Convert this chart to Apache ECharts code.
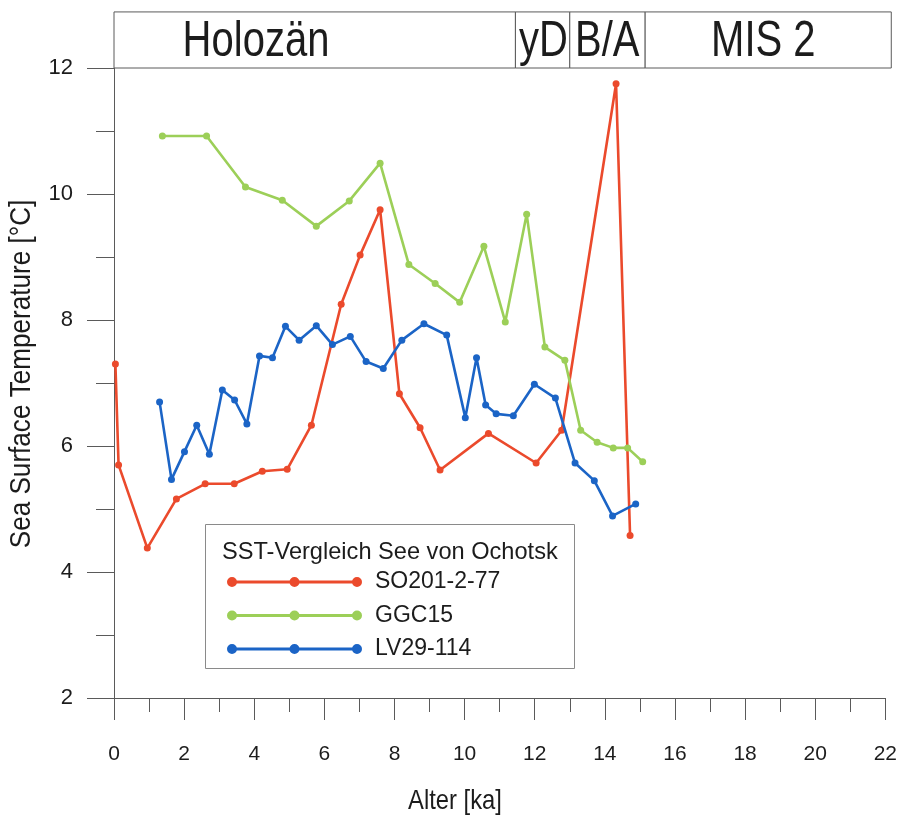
<!DOCTYPE html>
<html>
<head>
<meta charset="utf-8">
<script src="https://cdn.jsdelivr.net/npm/echarts@6/dist/echarts.min.js"></script>
<style>
  html, body { margin: 0; padding: 0; background: #ffffff; }
  #chart { width: 900px; height: 816px; }
</style>
</head>
<body>
<div id="chart"></div>
<script>
// SST core records, Sea of Okhotsk: age in ka, temperature in °C
const ageSO201 = [0.04, 0.13, 0.95, 1.78, 2.60, 3.43, 4.23, 4.94, 5.63, 6.48, 7.02, 7.59,
                  8.14, 8.73, 9.30, 10.68, 12.04, 12.77, 14.32, 14.72];
const sstSO201 = [7.30, 5.70, 4.38, 5.16, 5.40, 5.40, 5.60, 5.63, 6.33, 8.25, 9.03, 9.75,
                  6.83, 6.29, 5.62, 6.20, 5.73, 6.25, 11.75, 4.58];

const ageGGC15 = [1.38, 2.64, 3.75, 4.80, 5.77, 6.71, 7.59, 8.41, 9.16, 9.86, 10.55, 11.16,
                  11.77, 12.29, 12.86, 13.31, 13.78, 14.24, 14.65, 15.08];
const sstGGC15 = [10.92, 10.92, 10.11, 9.90, 9.49, 9.89, 10.49, 8.88, 8.58, 8.28, 9.17, 7.97,
                  9.68, 7.57, 7.36, 6.25, 6.06, 5.97, 5.97, 5.75];

const ageLV29 = [1.30, 1.64, 2.01, 2.36, 2.72, 3.09, 3.44, 3.79, 4.15, 4.52, 4.89, 5.28,
                 5.77, 6.23, 6.74, 7.19, 7.68, 8.21, 8.84, 9.49, 10.02, 10.34, 10.60, 10.90,
                 11.39, 11.99, 12.59, 13.15, 13.70, 14.22, 14.88];
const sstLV29 = [6.70, 5.47, 5.91, 6.33, 5.87, 6.89, 6.73, 6.35, 7.43, 7.40, 7.90, 7.68,
                 7.91, 7.61, 7.74, 7.34, 7.23, 7.68, 7.94, 7.76, 6.45, 7.40, 6.65, 6.51,
                 6.48, 6.98, 6.76, 5.73, 5.45, 4.89, 5.08];

const seriesNames = ['SO201-2-77', 'GGC15', 'LV29-114'];
const seriesColors = ['#EB4A2C', '#9CCF58', '#1B64C6'];

// Climate stages shown in the band above the plot (ka)
const stageNames = ['Holozän', 'yD', 'B/A', 'MIS 2'];
const stageStart = [0, 11.45, 13.0, 15.15];
const stageEnd = [11.45, 13.0, 15.15, 22.17];
const stageLabelAt = [4.05, 12.25, 14.07, 18.52];
const bandBottom = 12;
const bandTop = 12.89;

// Axis ranges and tick spacing
const xMin = 0, xMax = 22, xStep = 2;
const yMin = 2, yMax = 12, yStep = 2;

const xTitle = 'Alter [ka]';
const yTitle = 'Sea Surface Temperature [°C]';
const legendTitle = 'SST-Vergleich See von Ochotsk';

const zip = (a, b) => a.map((v, i) => [v, b[i]]);
const seriesData = [zip(ageSO201, sstSO201), zip(ageGGC15, sstGGC15), zip(ageLV29, sstLV29)];

const sans = '"Liberation Sans", Arial, Helvetica, sans-serif';
const condense = 0.8;   // horizontal squeeze for the condensed headings
const axisGrey = '#5a5a5a';
const ink = '#1c1c1c';

// Legend symbol: line with three dots
const legendIcon = 'path://M0,5a5,5 0 1,1 10,0a5,5 0 1,1 -10,0Z' +
  'M62.5,5a5,5 0 1,1 10,0a5,5 0 1,1 -10,0Z' +
  'M125,5a5,5 0 1,1 10,0a5,5 0 1,1 -10,0Z' +
  'M5,3.5L130,3.5L130,6.5L5,6.5Z';

const chart = echarts.init(document.getElementById('chart'), null, { renderer: 'canvas' });

const lineSeries = seriesNames.map((name, i) => ({
  name: name,
  type: 'line',
  data: seriesData[i],
  symbol: 'circle',
  symbolSize: 7,
  showSymbol: true,
  clip: false,
  lineStyle: { color: seriesColors[i], width: 2.6 },
  itemStyle: { color: seriesColors[i] },
  emphasis: { disabled: true },
  z: 3 + i
}));

const stageSeries = {
  type: 'custom',
  name: 'stages',
  clip: false,
  silent: true,
  data: stageNames.map((n, i) => [stageStart[i], stageEnd[i], stageLabelAt[i], bandBottom]),
  encode: { x: [0, 1, 2], y: 3 },
  renderItem: function (params, api) {
    const p0 = api.coord([api.value(0), bandTop]);
    const p1 = api.coord([api.value(1), bandBottom]);
    const pc = api.coord([api.value(2), bandBottom]);
    return {
      type: 'group',
      children: [
        {
          type: 'rect',
          shape: { x: p0[0], y: p0[1], width: p1[0] - p0[0], height: p1[1] - p0[1] },
          style: { fill: '#ffffff', stroke: axisGrey, lineWidth: 1 }
        },
        {
          type: 'text',
          x: pc[0], y: (p0[1] + p1[1]) / 2 + 2,
          scaleX: condense, scaleY: 1,
          style: {
            x: 0, y: 0,
            text: stageNames[params.dataIndex],
            fontFamily: sans, fontSize: 50,
            fill: ink, align: 'center', verticalAlign: 'middle'
          }
        }
      ]
    };
  },
  z: 2
};

chart.setOption({
  animation: false,
  backgroundColor: '#ffffff',
  grid: { left: 114, right: 14, top: 68, bottom: 118, containLabel: false },
  xAxis: {
    type: 'value',
    min: xMin, max: xMax, interval: xStep,
    axisLine: { show: true, onZero: false, lineStyle: { color: axisGrey, width: 1 } },
    axisTick: { show: true, inside: false, length: 22, lineStyle: { color: axisGrey, width: 1 } },
    minorTick: { show: true, splitNumber: 2, length: 14, lineStyle: { color: axisGrey, width: 1 } },
    axisLabel: { fontFamily: sans, fontSize: 21, color: ink, margin: 46 },
    splitLine: { show: false }
  },
  yAxis: {
    type: 'value',
    min: yMin, max: yMax, interval: yStep,
    axisLine: { show: true, onZero: false, lineStyle: { color: axisGrey, width: 1 } },
    axisTick: { show: true, inside: false, length: 27, lineStyle: { color: axisGrey, width: 1 } },
    minorTick: { show: true, splitNumber: 2, length: 18, lineStyle: { color: axisGrey, width: 1 } },
    axisLabel: { fontFamily: sans, fontSize: 22, color: ink, margin: 41 },
    splitLine: { show: false }
  },
  legend: {
    data: seriesNames,
    orient: 'vertical',
    left: 222,
    top: 564,
    icon: legendIcon,
    itemWidth: 135,
    itemHeight: 10,
    itemGap: 7.5,
    itemStyle: { borderWidth: 0 },
    selectedMode: false,
    textStyle: { fontFamily: sans, fontSize: 23, color: ink, lineHeight: 26, padding: [0, 0, 0, 8] }
  },
  graphic: [
    // axis titles, set in a condensed face
    {
      type: 'text',
      x: 455, y: 801,
      scaleX: 0.85,
      style: { x: 0, y: 0, text: xTitle, fontFamily: sans, fontSize: 28, fill: ink, align: 'center', verticalAlign: 'middle' },
      z: 10
    },
    {
      type: 'text',
      x: 22, y: 374,
      rotation: Math.PI / 2,
      scaleX: 0.9,
      style: { x: 0, y: 0, text: yTitle, fontFamily: sans, fontSize: 29, fill: ink, align: 'center', verticalAlign: 'middle' },
      z: 10
    },
    // legend frame and heading
    {
      type: 'rect',
      left: 205, top: 524,
      shape: { width: 369, height: 144 },
      style: { fill: 'rgba(255,255,255,0)', stroke: '#8a8a8a', lineWidth: 1 },
      z: 1
    },
    {
      type: 'text',
      left: 222, top: 540,
      style: { text: legendTitle, fontFamily: sans, fontSize: 23.6, fill: ink },
      z: 10
    }
  ],
  series: [stageSeries].concat(lineSeries)
});
</script>
</body>
</html>
